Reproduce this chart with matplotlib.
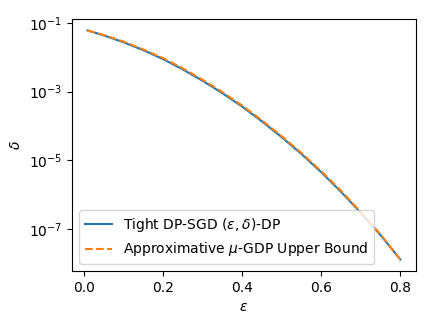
import numpy as np
import matplotlib
matplotlib.use("Agg")
import matplotlib.pyplot as plt
from matplotlib.ticker import NullLocator, FixedLocator

# eps values and log10(delta)
eps = [0.01, 0.05, 0.10, 0.15, 0.20, 0.25, 0.30, 0.35, 0.40, 0.45,
       0.50, 0.55, 0.60, 0.65, 0.70, 0.75, 0.80]
log_delta_tight = [-1.22, -1.36, -1.56, -1.79, -2.05, -2.35, -2.68, -3.04, -3.43, -3.86,
                   -4.32, -4.81, -5.34, -5.91, -6.52, -7.17, -7.88]
log_delta_gdp = [-1.22, -1.35, -1.54, -1.77, -2.02, -2.32, -2.65, -3.01, -3.40, -3.83,
                 -4.29, -4.78, -5.31, -5.88, -6.50, -7.15, -7.88]

delta_tight = [10 ** v for v in log_delta_tight]
delta_gdp = [10 ** v for v in log_delta_gdp]

fig = plt.figure(figsize=(4.32, 3.24), dpi=100)
ax = fig.add_axes([72 / 432, 1 - 271 / 324, (416 - 72) / 432, (271 - 19) / 324])

ax.plot(eps, delta_tight, color="#1f77b4", linestyle="-", label=r"Tight DP-SGD $(\epsilon,\delta)$-DP")
ax.plot(eps, delta_gdp, color="#ff7f0e", linestyle="--", label=r"Approximative $\mu$-GDP Upper Bound")
ax.set_yscale("log")
ax.yaxis.set_major_locator(FixedLocator([1e-1, 1e-3, 1e-5, 1e-7]))
ax.yaxis.set_minor_locator(NullLocator())
ax.set_xticks([0.0, 0.2, 0.4, 0.6, 0.8])
ax.set_xlabel(r"$\epsilon$")
ax.set_ylabel(r"$\delta$")
ax.legend(loc="lower left")

fig.savefig("out.png", dpi=100)
